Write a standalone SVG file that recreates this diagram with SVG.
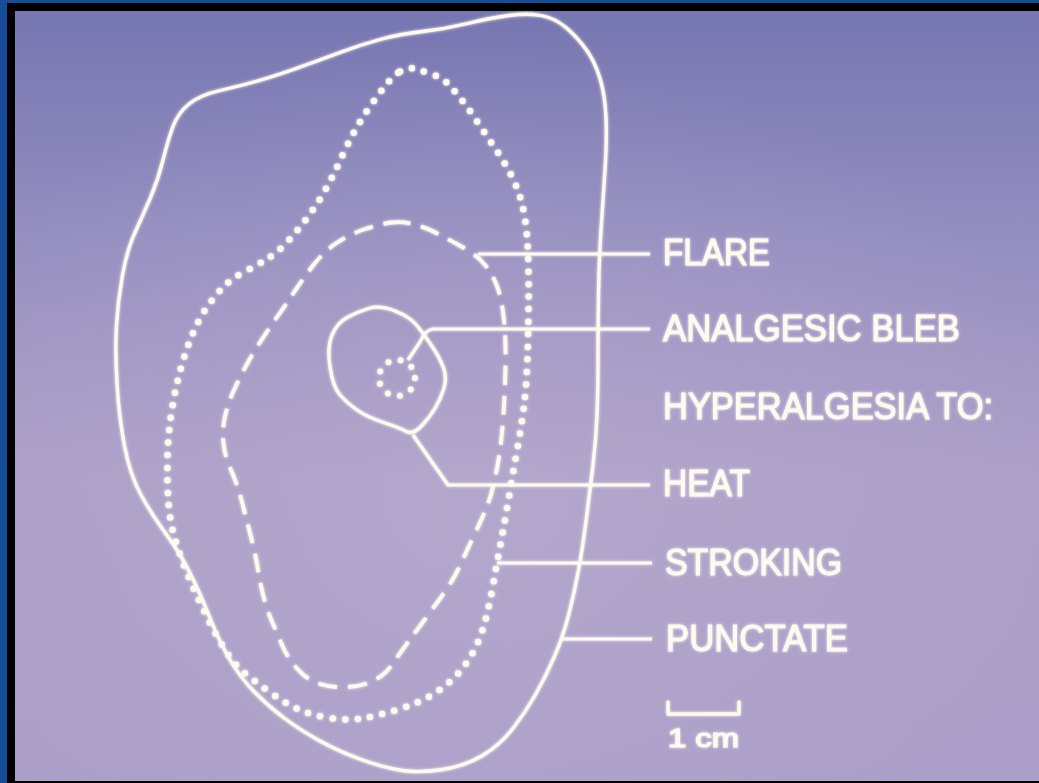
<svg xmlns="http://www.w3.org/2000/svg" width="1039" height="783" viewBox="0 0 1039 783">
<defs>
<linearGradient id="bg" x1="0" y1="0" x2="0" y2="1">
<stop offset="0" stop-color="#7676b1"/>
<stop offset="0.3" stop-color="#958fc0"/>
<stop offset="0.6" stop-color="#aca0c8"/>
<stop offset="1" stop-color="#ab9fc9"/>
</linearGradient>
<radialGradient id="sheen" cx="0.45" cy="0.65" r="0.6">
<stop offset="0" stop-color="#bcaed0" stop-opacity="0.45"/>
<stop offset="1" stop-color="#bcaed0" stop-opacity="0"/>
</radialGradient>
<filter id="glow" x="-5%" y="-5%" width="110%" height="110%">
<feGaussianBlur in="SourceGraphic" stdDeviation="1.6" result="b"/>
<feMerge><feMergeNode in="b"/><feMergeNode in="SourceGraphic"/></feMerge>
</filter>
</defs>
<style>
.line{fill:none;stroke:#fffaf0;stroke-width:3.3;stroke-linejoin:round;stroke-linecap:round}
.dots{fill:none;stroke:#fffaf0;stroke-width:6.5;stroke-linecap:round;stroke-dasharray:0 12.5}
.dash{fill:none;stroke:#fffaf0;stroke-width:3.8;stroke-linecap:butt;stroke-dasharray:19 11}
.lead{fill:none;stroke:#fffaf0;stroke-width:3.2;stroke-linejoin:round;stroke-linecap:butt}
.lbl{font-family:"Liberation Sans",Arial,sans-serif;font-size:37px;fill:#fffaf0;stroke:#fffaf0;stroke-width:1}
.small{font-size:26px;stroke-width:1.2}
</style>
<rect x="0" y="0" width="1039" height="783" fill="#174c98"/>
<rect x="7" y="3" width="1032" height="780" fill="#000"/>
<rect x="15" y="11" width="1024" height="770" fill="url(#bg)"/>
<rect x="15" y="11" width="1024" height="770" fill="url(#sheen)"/>
<g filter="url(#glow)">
<g id="punctate-area">
<path class="line" d="M508.5,15.5 Q527,13 541,15.5 Q555,18 566.5,28 Q578,38 586.5,50 Q595,62 600,78.5 Q605,95 606,117.5 Q607,140 605,170 Q603,200 601,230 Q599,260 598.5,295 Q598,330 598,360 Q598,390 597,415 Q596,440 593,465 Q590,490 586.5,517.5 Q583,545 579,567.5 Q575,590 569,613.5 Q563,637 554,657.5 Q545,678 535,695.5 Q525,713 512.5,729 Q500,745 482.5,755.5 Q465,766 442.5,769.5 Q420,773 402.5,770.5 Q385,768 362.5,760 Q340,752 320,741 Q300,730 283.5,717.5 Q267,705 253.5,691 Q240,677 230,660 Q220,643 210,618 Q200,593 190,573 Q180,553 166,534 Q152,515 141,495 Q130,475 124.5,446 Q119,417 117,383.5 Q115,350 116.5,325 Q118,300 122.5,275 Q127,250 135,232.5 Q143,215 150.5,197.5 Q158,180 163,160 Q168,140 173,126.5 Q178,113 189,104 Q200,95 220,90.5 Q240,86 257.5,81 Q275,76 297.5,68 Q320,60 340,52.5 Q360,45 380,39.5 Q400,34 422.5,31.5 Q445,29 467.5,23.5 Q490,18 508.5,15.5 Z"/>
</g>
<g id="stroking-area">
<path class="dots" d="M400,71.5 Q407,67 413.5,68.5 Q420,70 431.5,74 Q443,78 450.5,86.5 Q458,95 465.5,105 Q473,115 480.5,126.5 Q488,138 495.5,149 Q503,160 509,171 Q515,182 519,193.5 Q523,205 525.5,222.5 Q528,240 528.5,270 Q529,300 528,340 Q527,380 524.5,401.5 Q522,423 517.5,448 Q513,473 509,496.5 Q505,520 501,541.5 Q497,563 492.5,588 Q488,613 482.5,630 Q477,647 468.5,660 Q460,673 448.5,683 Q437,693 423.5,699.5 Q410,706 395,710.5 Q380,715 365,718 Q350,721 330,718 Q310,715 296.5,708.5 Q283,702 268,691 Q253,680 243,671.5 Q233,663 225,650 Q217,637 208.5,620 Q200,603 191,582.5 Q182,562 176,542.5 Q170,523 168.5,503 Q167,483 167.5,458 Q168,433 172,409 Q176,385 181.5,366 Q187,347 193.5,332 Q200,317 208.5,305 Q217,293 225,285.5 Q233,278 245,271.5 Q257,265 267,259 Q277,253 288.5,240.5 Q300,228 310,214 Q320,200 327.5,186 Q335,172 341.5,157.5 Q348,143 355,130.5 Q362,118 370,106.5 Q378,95 385.5,85.5 Q393,76 400,71.5 Z"/>
</g>
<g id="flare-area">
<path class="dash" d="M391.5,222.5 Q403,221 415,224.5 Q427,228 438.5,234 Q450,240 464,248 Q478,256 485.5,265.5 Q493,275 497.5,287.5 Q502,300 504,320 Q506,340 505.5,365 Q505,390 503.5,413.5 Q502,437 499.5,453.5 Q497,470 493.5,485 Q490,500 485,511.5 Q480,523 473.5,536.5 Q467,550 461,563.5 Q455,577 446,590 Q437,603 427,616.5 Q417,630 408.5,641.5 Q400,653 392.5,664 Q385,675 374,680.5 Q363,686 348,687 Q333,688 320,684 Q307,680 297,668.5 Q287,657 282,645 Q277,633 272,621.5 Q267,610 263.5,596.5 Q260,583 258,570 Q256,557 252,541 Q248,525 242.5,504 Q237,483 231,470 Q225,457 223.5,443.5 Q222,430 225,416.5 Q228,403 234,390 Q240,377 246.5,365 Q253,353 261.5,340 Q270,327 278.5,315 Q287,303 293.5,293 Q300,283 311.5,267.5 Q323,252 336.5,243 Q350,234 365,229 Q380,224 391.5,222.5 Z"/>
</g>
<g id="heat-area">
<path class="line" d="M368.5,308.5 Q380,305 395,311 Q410,317 416.5,325 Q423,333 431.5,345.5 Q440,358 443.5,368 Q447,378 444,388 Q441,398 435.5,407.5 Q430,417 421.5,426 Q413,435 406.5,431.5 Q400,428 383.5,422.5 Q367,417 357,410 Q347,403 340,395 Q333,387 330,367 Q327,347 332,335 Q337,323 347,317.5 Q357,312 368.5,308.5 Z"/>
</g>
<g id="analgesic-bleb">
<circle cx="397" cy="378" r="18" fill="none" stroke="#fffaf0" stroke-width="6" stroke-linecap="round" stroke-dasharray="0 12.566"/>
</g>
<g id="connectors">
<path class="lead" d="M478,254 L650,254"/>
<path class="lead" d="M408,360 L420,342 Q425,330 433,329 L650,329"/>
<path class="lead" d="M413,435 L448,485 L650,485"/>
<path class="lead" d="M497,563 L652,563"/>
<path class="lead" d="M563,639 L652,639"/>
</g>
<g id="labels">
<text class="lbl" x="663" y="265" textLength="107" lengthAdjust="spacingAndGlyphs">FLARE</text>
<text class="lbl" x="663" y="341" textLength="297" lengthAdjust="spacingAndGlyphs">ANALGESIC BLEB</text>
<text class="lbl" x="663" y="419" textLength="330" lengthAdjust="spacingAndGlyphs">HYPERALGESIA TO:</text>
<text class="lbl" x="663" y="496" textLength="87" lengthAdjust="spacingAndGlyphs">HEAT</text>
<text class="lbl" x="665" y="575" textLength="177" lengthAdjust="spacingAndGlyphs">STROKING</text>
<text class="lbl" x="666" y="651" textLength="182" lengthAdjust="spacingAndGlyphs">PUNCTATE</text>
</g>
<g id="scale-bar">
<path class="line" d="M668,702 L668,714 L739,714 L739,702" stroke-linecap="butt"/>
<text class="lbl small" x="668" y="747" textLength="71" lengthAdjust="spacingAndGlyphs">1 cm</text>
</g>
</g>
</svg>
